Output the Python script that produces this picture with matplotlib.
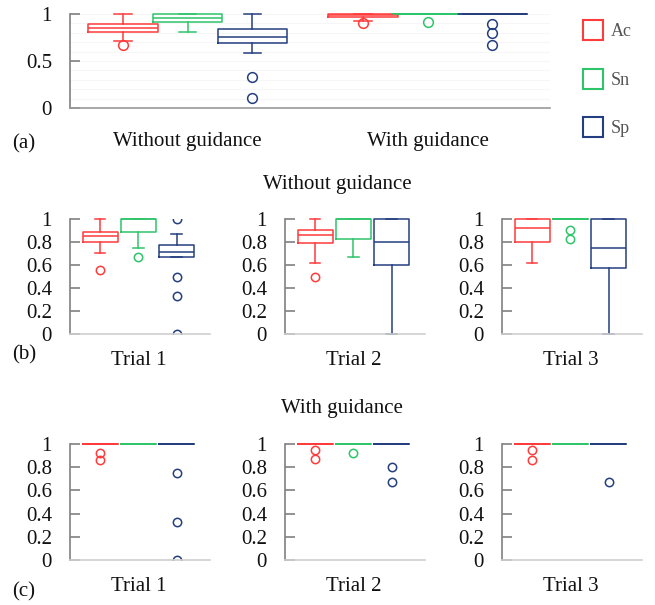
import matplotlib
matplotlib.use("Agg")
import matplotlib.pyplot as plt
from matplotlib.lines import Line2D

plt.rcParams['font.family'] = ['Liberation Serif', 'DejaVu Serif']

# ---------------- data ----------------
metrics = ["Ac", "Sn", "Sp"]
colors = ["#ff3b3b", "#2ec46a", "#243e80"]

# panel (a): [whislo, q1, med, q3, whishi], fliers
a_groups = ["Without guidance", "With guidance"]
a_without_stats = [[0.71, 0.81, 0.85, 0.89, 1.00],
                   [0.81, 0.92, 0.955, 1.00, 1.00],
                   [0.58, 0.69, 0.75, 0.845, 1.00]]
a_without_fliers = [[0.67], [], [0.33, 0.11]]
a_with_stats = [[0.93, 0.97, 0.985, 1.00, 1.00],
                [1.00, 1.00, 1.00, 1.00, 1.00],
                [1.00, 1.00, 1.00, 1.00, 1.00]]
a_with_fliers = [[0.90], [0.91], [0.89, 0.80, 0.67]]

trials = ["Trial 1", "Trial 2", "Trial 3"]
# panel (b): without guidance per trial
b_stats = [
    [[0.70, 0.80, 0.855, 0.89, 1.00], [0.75, 0.89, 1.00, 1.00, 1.00], [0.67, 0.67, 0.71, 0.775, 0.87]],
    [[0.62, 0.79, 0.86, 0.905, 1.00], [0.67, 0.83, 1.00, 1.00, 1.00], [0.00, 0.60, 0.80, 1.00, 1.00]],
    [[0.62, 0.80, 0.92, 1.00, 1.00], [1.00, 1.00, 1.00, 1.00, 1.00], [0.00, 0.57, 0.75, 1.00, 1.00]],
]
b_fliers = [
    [[0.56], [0.67], [1.00, 0.50, 0.33, 0.00]],
    [[0.50], [], []],
    [[], [0.90, 0.83], []],
]
# panel (c): with guidance per trial
c_stats = [
    [[1.0, 1.0, 1.0, 1.0, 1.0], [1.0, 1.0, 1.0, 1.0, 1.0], [1.0, 1.0, 1.0, 1.0, 1.0]],
    [[1.0, 1.0, 1.0, 1.0, 1.0], [1.0, 1.0, 1.0, 1.0, 1.0], [1.0, 1.0, 1.0, 1.0, 1.0]],
    [[1.0, 1.0, 1.0, 1.0, 1.0], [1.0, 1.0, 1.0, 1.0, 1.0], [1.0, 1.0, 1.0, 1.0, 1.0]],
]
c_fliers = [
    [[0.92, 0.86], [], [0.75, 0.33, 0.00]],
    [[0.95, 0.87], [0.92], [0.80, 0.67]],
    [[0.95, 0.86], [], [0.67]],
]

a_yticks = [0, 0.5, 1]
a_yticklabels = ["0", "0.5", "1"]
b_yticks = [0, 0.2, 0.4, 0.6, 0.8, 1.0]
b_yticklabels = ["0", "0.2", "0.4", "0.6", "0.8", "1"]

FS = 15
TXT = "#111111"

# ---------------- figure ----------------
W, H = 655, 605
fig = plt.figure(figsize=(W / 100, H / 100), dpi=100)


def px_axes(left, top, right, bottom):
    return fig.add_axes([left / W, 1 - bottom / H, (right - left) / W, (bottom - top) / H])


def draw_box(ax, stat, fl, pos, width, color, capfrac, msize):
    d = dict(whislo=stat[0], q1=stat[1], med=stat[2], q3=stat[3], whishi=stat[4], fliers=fl)
    lw = 1.1
    res = ax.bxp([d], positions=[pos], widths=width, capwidths=width * capfrac, showfliers=True,
                 boxprops=dict(color=color, linewidth=lw),
                 whiskerprops=dict(color=color, linewidth=lw),
                 capprops=dict(color=color, linewidth=lw),
                 medianprops=dict(color=color, linewidth=lw),
                 flierprops=dict(marker='o', markerfacecolor='none', markeredgecolor=color,
                                 markersize=msize, markeredgewidth=1.1, linestyle='none'),
                 manage_ticks=False)
    for key in ["boxes", "whiskers", "caps", "medians"]:
        for art in res[key]:
            art.set_clip_on(False)


def style_axes(ax, yticks, yticklabels, bottom_color):
    for s in ["top", "right"]:
        ax.spines[s].set_visible(False)
    ax.spines["left"].set_color("#808080")
    ax.spines["left"].set_linewidth(1.2)
    ax.spines["bottom"].set_color(bottom_color)
    ax.spines["bottom"].set_linewidth(1.2)
    ax.set_ylim(0, 1)
    ax.set_yticks(yticks)
    ax.set_yticklabels(yticklabels)
    ax.tick_params(axis='y', direction='in', length=7, width=1.2, color="#808080",
                   labelsize=FS, pad=13, labelcolor=TXT)
    ax.tick_params(axis='x', length=0, labelsize=FS, labelcolor=TXT)


# panel (a)
axa = px_axes(70, 14, 550, 108)
offs = [-0.27, 0.0, 0.27]
for gi, (stats, fls) in enumerate([(a_without_stats, a_without_fliers), (a_with_stats, a_with_fliers)]):
    for mi in range(3):
        draw_box(axa, stats[mi], fls[mi], gi + 1 + offs[mi], 0.29, colors[mi], 0.25, 7)
axa.set_xlim(0.51, 2.51)
style_axes(axa, a_yticks, a_yticklabels, "#9a9a9a")
axa.set_yticks([0.1, 0.2, 0.3, 0.4, 0.6, 0.7, 0.8, 0.9], minor=True)
axa.tick_params(axis='y', which='minor', length=0)
axa.grid(True, axis='y', which='both', color="#f6f6f6", linewidth=0.8)
axa.set_axisbelow(True)
axa.set_xticks([1, 2])
axa.set_xticklabels(a_groups)
axa.tick_params(axis='x', pad=17)

# legend
handles = [Line2D([], [], marker='s', linestyle='none', markersize=14, markerfacecolor='white',
                  markeredgecolor=c, markeredgewidth=1.5) for c in colors]
leg = fig.legend(handles, metrics, loc='upper left', bbox_to_anchor=(575 / W, 1 - 16 / H),
                 frameon=False, fontsize=13, labelspacing=1.75, handletextpad=0.4,
                 handlelength=1.2, borderaxespad=0)
for t in leg.get_texts():
    t.set_color("#555555")


def trial_row(stats_all, fliers_all, top, bottom):
    lefts = [70, 285, 502]
    for ti in range(3):
        ax = px_axes(lefts[ti], top, lefts[ti] + 140, bottom)
        for mi in range(3):
            draw_box(ax, stats_all[ti][mi], fliers_all[ti][mi], mi + 1, 0.92, colors[mi], 0.3, 6)
        ax.set_xlim(0.21, 3.87)
        style_axes(ax, b_yticks, b_yticklabels, "#d0d0d0")
        ax.set_xticks([2])
        ax.set_xticklabels([trials[ti]])
        ax.tick_params(axis='x', pad=12)


trial_row(b_stats, b_fliers, 219, 334)
trial_row(c_stats, c_fliers, 444, 560)

fig.text(337 / W, 1 - 185 / H, "Without guidance", ha='center', va='center', fontsize=FS, color=TXT)
fig.text(342 / W, 1 - 409 / H, "With guidance", ha='center', va='center', fontsize=FS, color=TXT)
fig.text(12 / W, 1 - 144 / H, "(a)", ha='left', va='center', fontsize=FS, color=TXT)
fig.text(12 / W, 1 - 355 / H, "(b)", ha='left', va='center', fontsize=FS, color=TXT)
fig.text(12 / W, 1 - 592 / H, "(c)", ha='left', va='center', fontsize=FS, color=TXT)

fig.savefig("out.png", dpi=100)
